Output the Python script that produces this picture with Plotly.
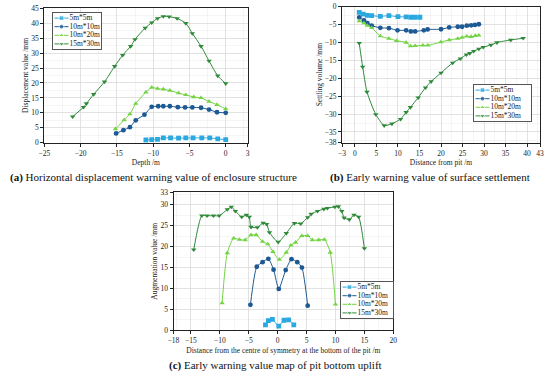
import plotly.graph_objects as go

names = ["5m*5m", "10m*10m", "10m*20m", "15m*30m"]
colors = ["#2aa8e0", "#1d5a94", "#74d444", "#2f8a3a"]
symbols = ["square", "circle", "triangle-up", "triangle-down"]

# (a) Horizontal displacement warning value of enclosure structure
a_x_5 = [-11.0, -10.2, -9.4, -8.6, -7.6, -6.5, -5.5, -4.5, -3.3, -2.2, -1.1, 0.0]
a_y_5 = [0.9, 1.0, 1.1, 1.6, 1.6, 1.5, 1.6, 1.6, 1.6, 1.6, 1.3, 1.0]
a_x_10 = [-15.1, -14.1, -13.2, -12.4, -11.2, -10.2, -9.3, -8.6, -7.7, -6.6, -5.6, -4.6, -3.4, -2.3, -1.2, 0.0]
a_y_10 = [3.1, 4.2, 5.2, 7.5, 9.4, 12.0, 12.2, 12.2, 12.2, 11.9, 11.8, 11.8, 11.7, 11.1, 10.2, 10.0]
a_x_20 = [-15.2, -14.0, -13.2, -12.4, -11.0, -10.2, -9.4, -8.6, -7.7, -6.5, -5.5, -4.4, -3.4, -2.3, -1.2, 0.0]
a_y_20 = [4.6, 7.6, 9.6, 13.1, 16.9, 18.5, 18.1, 17.9, 17.5, 16.6, 16.0, 15.3, 15.0, 13.8, 12.7, 11.3]
a_x_30 = [-21.1, -19.6, -19.2, -18.2, -16.7, -15.3, -14.2, -13.1, -12.5, -11.1, -10.2, -9.4, -8.6, -7.8, -6.7, -5.5, -4.6, -3.4, -2.3, -1.1, 0.0]
a_y_30 = [8.7, 11.9, 13.1, 16.2, 20.4, 25.6, 29.3, 32.3, 34.6, 38.4, 40.2, 41.6, 42.3, 42.2, 41.6, 40.0, 36.6, 32.3, 27.4, 22.4, 19.8]

# (b) Early warning value of surface settlement
b_x_5 = [1.0, 1.9, 2.9, 3.9, 5.9, 7.9, 10.0, 11.9, 13.0, 14.0, 15.1]
b_y_5 = [-1.6, -2.1, -2.4, -2.5, -2.7, -2.5, -2.8, -2.85, -2.95, -2.95, -2.95]
b_x_10 = [1.0, 2.1, 2.9, 3.9, 5.9, 7.9, 9.9, 11.9, 13.0, 14.0, 16.0, 16.9, 20.0, 21.9, 23.9, 24.9, 26.0, 27.0, 27.9, 28.8]
b_y_10 = [-3.0, -3.8, -4.6, -5.3, -5.9, -6.0, -6.6, -6.6, -6.9, -6.9, -6.6, -6.35, -6.3, -5.8, -5.6, -5.6, -5.3, -5.2, -5.1, -4.9]
b_x_20 = [1.0, 2.1, 2.9, 3.9, 5.9, 7.9, 9.7, 11.9, 12.9, 14.0, 15.8, 16.95, 19.95, 21.9, 23.9, 24.9, 26.0, 27.0, 28.0, 28.8]
b_y_20 = [-4.0, -4.6, -5.3, -5.9, -8.2, -8.9, -9.5, -10.0, -11.0, -10.95, -10.8, -10.8, -9.9, -9.3, -8.9, -8.6, -8.3, -8.4, -8.1, -8.0]
b_x_30 = [1.0, 1.8, 2.8, 4.85, 6.8, 8.6, 10.6, 11.9, 12.9, 14.7, 16.4, 17.7, 20.0, 22.7, 24.5, 25.9, 26.7, 27.6, 28.8, 29.8, 31.6, 33.0, 36.2, 39.1]
b_y_30 = [-10.2, -16.8, -23.8, -30.1, -33.2, -32.7, -31.4, -29.5, -28.1, -25.4, -22.6, -20.9, -18.5, -15.7, -14.5, -13.4, -13.0, -12.4, -11.8, -11.3, -10.7, -10.0, -9.3, -8.8]

# (c) Early warning value map of pit bottom uplift
c_x_5 = [-2.1, -1.6, -0.9, 0.2, 1.1, 1.9, 2.8]
c_y_5 = [1.3, 2.3, 2.6, 1.0, 2.4, 2.5, 1.3]
c_x_10 = [-4.7, -3.6, -2.6, -1.6, -0.7, 0.2, 1.4, 2.4, 3.4, 4.2, 5.2]
c_y_10 = [6.1, 15.2, 16.3, 17.1, 14.5, 9.9, 14.4, 17.0, 16.3, 15.0, 5.9]
c_x_20 = [-9.6, -8.7, -7.6, -6.6, -5.6, -4.6, -3.7, -2.6, -1.7, -0.8, 0.3, 1.5, 2.3, 3.1, 4.2, 5.2, 6.0, 7.1, 8.1, 9.1, 10.0]
c_y_20 = [6.5, 18.5, 22.0, 21.7, 21.6, 22.8, 22.8, 21.2, 20.6, 18.8, 16.9, 18.6, 20.3, 21.0, 22.6, 22.6, 21.6, 21.6, 21.7, 18.6, 6.2]
c_x_30 = [-14.5, -13.1, -12.2, -11.1, -10.1, -8.7, -8.0, -7.3, -6.2, -5.4, -4.9, -4.6, -3.5, -2.5, -1.9, -1.4, 0.1, 1.5, 2.9, 4.0, 5.2, 5.8, 6.9, 8.0, 8.6, 9.9, 10.5, 11.1, 11.5, 12.4, 13.2, 14.0, 15.0]
c_y_30 = [19.3, 27.4, 27.4, 27.4, 27.4, 28.9, 29.5, 28.5, 27.1, 27.6, 27.1, 24.7, 24.6, 25.7, 25.4, 23.4, 21.1, 23.2, 25.6, 25.5, 27.0, 27.8, 28.5, 29.0, 29.2, 29.5, 29.6, 28.5, 26.9, 26.5, 27.6, 27.1, 19.6]

panels = [
    ("x", "y", [(a_x_5, a_y_5), (a_x_10, a_y_10), (a_x_20, a_y_20), (a_x_30, a_y_30)]),
    ("x2", "y2", [(b_x_5, b_y_5), (b_x_10, b_y_10), (b_x_20, b_y_20), (b_x_30, b_y_30)]),
    ("x3", "y3", [(c_x_5, c_y_5), (c_x_10, c_y_10), (c_x_20, c_y_20), (c_x_30, c_y_30)]),
]

FONT = "Liberation Serif, Times New Roman, serif"
W, H = 550, 376
INK = "#222"


def dx(a, b):
    return [a / W, b / W]


def dy(top, bottom):
    return [1 - bottom / H, 1 - top / H]


fig = go.Figure()
for xa, ya, series in panels:
    for i, (xs, ys) in enumerate(series):
        fig.add_trace(go.Scatter(
            x=xs, y=ys, xaxis=xa, yaxis=ya, name=names[i], showlegend=False,
            mode="lines+markers",
            line=dict(color=colors[i], width=1, shape="spline", smoothing=0.6),
            marker=dict(symbol=symbols[i], size=4.8, color=colors[i]),
        ))


def axis_style(title, rng, tickvals, domain, anchor, minor_dtick, standoff=3):
    return dict(
        title=dict(text=title, font=dict(size=7.5, family=FONT, color=INK), standoff=standoff),
        range=rng, tickvals=tickvals, domain=domain, anchor=anchor, automargin=False,
        showline=True, linecolor=INK, linewidth=1, mirror=True,
        ticks="outside", ticklen=3, tickwidth=1, tickcolor=INK,
        tickfont=dict(size=7.5, family=FONT, color=INK),
        showgrid=True, gridcolor="#d6d6d6", gridwidth=0.6,
        minor=dict(dtick=minor_dtick, showgrid=True, gridcolor="#ececec", gridwidth=0.5, ticks=""),
        zeroline=False,
    )


layout_axes = dict(
    xaxis=axis_style("Depth /m", [-25, 3], [-25, -20, -15, -10, -5, 0, 3], dx(44.3, 247.5), "y", 2.5),
    yaxis=axis_style("Displacement value /mm", [0, 45], list(range(0, 50, 5)), dy(8.3, 142.7), "x", 2.5, 1),
    xaxis2=axis_style("Distance from pit /m", [-3, 43], [-3, 0, 5, 10, 15, 20, 25, 30, 35, 40, 43], dx(342, 540), "y2", 2.5),
    yaxis2=axis_style("Settling volume /mm", [-38, 0], [-38, -35, -30, -25, -20, -15, -10, -5, 0], dy(6.7, 142.7), "x2", 2.5, 1),
    xaxis3=axis_style("Distance from the centre of symmetry at the bottom of the pit /m", [-18, 20], [-18, -15, -10, -5, 0, 5, 10, 15, 20], dx(173.5, 393.3), "y3", 2.5),
    yaxis3=axis_style("Augmentation value /mm", [0, 33], [0, 5, 10, 15, 20, 25, 30, 33], dy(192.3, 330.3), "x3", 2.5, 1),
)

# Legend boxes drawn as small helper subplots (pixel-unit axes), one per panel
legend_boxes = [(53, 13, 48, 36), (474, 85, 57, 36), (341, 282, 52, 36)]
for k, (left, top, w, h) in enumerate(legend_boxes):
    idx = 4 + k
    xa, ya = f"x{idx}", f"y{idx}"
    layout_axes[f"xaxis{idx}"] = dict(domain=dx(left, left + w), range=[0, w], anchor=ya, automargin=False,
                                      showline=True, mirror=True, linecolor="#555", linewidth=1,
                                      showgrid=False, zeroline=False, showticklabels=False, ticks="",
                                      fixedrange=True)
    layout_axes[f"yaxis{idx}"] = dict(domain=dy(top, top + h), range=[h, 0], anchor=xa, automargin=False,
                                      showline=True, mirror=True, linecolor="#555", linewidth=1,
                                      showgrid=False, zeroline=False, showticklabels=False, ticks="",
                                      fixedrange=True)
    fig.add_trace(go.Scatter(x=[0, w, w, 0, 0], y=[0, 0, h, h, 0], xaxis=xa, yaxis=ya,
                             mode="lines", fill="toself", fillcolor="white",
                             line=dict(width=0, color="white"), hoverinfo="skip", showlegend=False))
    gap = 8.6
    y0 = (h - 3 * gap) / 2
    for i, nm in enumerate(names):
        yy = y0 + i * gap
        fig.add_trace(go.Scatter(x=[1.5, 8.5, 15.5], y=[yy, yy, yy], xaxis=xa, yaxis=ya,
                                 mode="lines+markers",
                                 line=dict(color=colors[i], width=1),
                                 marker=dict(symbol=symbols[i], size=[0, 4.8, 0], color=colors[i]),
                                 hoverinfo="skip", showlegend=False))
        fig.add_trace(go.Scatter(x=[16.5], y=[yy], xaxis=xa, yaxis=ya, mode="text",
                                 text=[nm], textposition="middle right",
                                 textfont=dict(size=7.5, family=FONT, color=INK),
                                 hoverinfo="skip", showlegend=False))

fig.update_layout(
    width=W, height=H, margin=dict(l=0, r=0, t=0, b=0, autoexpand=False),
    paper_bgcolor="white", plot_bgcolor="white",
    font=dict(family=FONT, size=8, color=INK),
    showlegend=False, hovermode=False,
    **layout_axes,
)

captions = [
    ("<b>(a)</b> Horizontal displacement warning value of enclosure structure", 153, 178),
    ("<b>(b)</b> Early warning value of surface settlement", 430, 178),
    ("<b>(c)</b> Early warning value map of pit bottom uplift", 275, 365),
]
for text, cx, cy in captions:
    fig.add_annotation(text=text, x=cx / W, y=1 - cy / H, xref="paper", yref="paper",
                       showarrow=False, xanchor="center", yanchor="middle",
                       font=dict(size=11, family=FONT, color="#111"))

fig.write_html("out.html", config={"displayModeBar": False, "staticPlot": True},
               post_script="document.body.style.margin='0px';")
